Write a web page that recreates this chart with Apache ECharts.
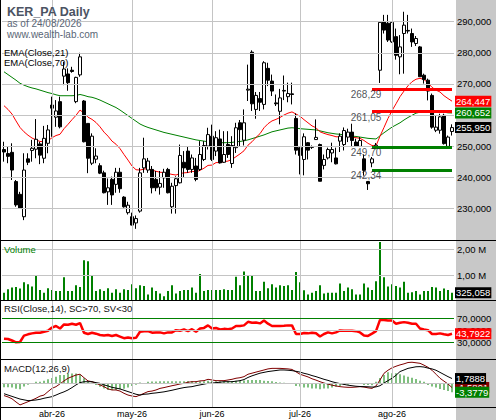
<!DOCTYPE html>
<html><head><meta charset="utf-8">
<script src="https://cdn.jsdelivr.net/npm/echarts@6/dist/echarts.min.js"></script>
<style>html,body{margin:0;padding:0;background:#fff}#c{width:496px;height:420px}</style>
</head><body><div id="c"></div>
<script>
const DATES = [
'16/03','17/03','18/03','19/03','20/03','23/03','24/03','25/03','26/03','27/03','30/03','31/03',
'01/04','02/04','07/04','08/04','09/04','10/04','13/04','14/04','15/04','16/04','17/04','20/04','21/04','22/04','23/04','24/04','27/04','28/04','29/04','30/04',
'04/05','05/05','06/05','07/05','08/05','11/05','12/05','13/05','14/05','15/05','18/05','19/05','20/05','21/05','22/05','25/05','26/05','27/05','28/05','29/05',
'01/06','02/06','03/06','04/06','05/06','08/06','09/06','10/06','11/06','12/06','15/06','16/06','17/06','18/06','19/06','22/06','23/06','24/06','25/06','26/06','29/06','30/06',
'01/07','02/07','03/07','06/07','07/07','08/07','09/07','10/07','13/07','14/07','15/07','16/07','17/07','20/07','21/07','22/07','23/07','24/07','27/07','28/07','29/07','30/07','31/07',
'03/08','04/08','05/08','06/08','07/08','10/08','11/08','12/08','13/08','14/08','17/08','18/08','19/08','20/08','21/08','24/08'];
const MONTH_LABELS = {'04':'abr-26','05':'may-26','06':'jun-26','07':'jul-26','08':'ago-26'};

const OPEN = [248.9,247.6,248.0,238.6,234.5,227.3,245.9,248.6,249.0,250.7,
246.1,250.9,263.2,259.3,264.3,272.5,273.2,274.4,264.3,272.9,
264.5,257.3,244.5,245.8,243.7,241.4,235.3,239.3,237.7,241.6,
233.6,228.6,227.3,225.3,229.1,243.0,242.3,242.5,239.3,236.8,
239.8,242.5,230.5,237.3,238.2,244.8,248.4,242.5,243.6,242.5,
245.7,250.0,253.2,248.4,252.3,244.8,250.5,244.4,249.5,257.5,
251.9,268.0,280.2,261.8,265.3,263.4,275.0,270.9,263.9,261.2,
267.7,265.9,266.8,258.9,249.5,245.7,251.1,249.8,252.1,250.5,
243.8,246.2,247.8,246.2,251.6,250.5,252.9,254.5,251.3,249.9,
245.9,238.6,244.6,249.7,274.4,290.0,289.5,283.5,285.2,278.7,
286.2,287.2,286.2,283.0,281.9,272.8,271.2,266.3,255.1,255.1,
259.9,249.9,254.7];
const CLOSE = [248.1,246.7,242.3,231.1,230.0,242.3,244.8,249.3,252.2,247.1,
252.5,255.2,262.2,261.3,256.2,274.8,270.4,274.0,272.1,278.7,
251.4,246.1,253.2,246.8,241.3,235.0,236.6,234.3,241.6,236.3,
230.5,231.0,224.6,226.7,241.4,245.9,245.2,236.6,236.6,238.0,
241.6,235.0,237.1,239.5,247.0,243.0,242.5,246.2,239.3,247.3,
250.2,253.7,245.7,252.7,244.6,247.3,247.3,250.2,255.9,255.3,
257.5,268.3,263.6,266.3,264.1,276.8,271.2,267.7,263.6,265.5,
267.9,266.9,266.6,248.7,247.0,253.0,248.7,249.6,252.8,238.7,
245.7,248.9,248.9,244.3,253.2,255.0,254.5,251.8,250.0,251.8,
242.2,237.9,245.9,250.3,289.8,287.3,284.1,289.8,279.2,281.9,
288.9,287.0,283.5,284.6,272.3,271.4,267.7,256.1,256.1,259.4,
250.8,252.9,255.95];
const HIGH = [251.4,250.0,250.9,239.1,235.3,247.7,247.7,252.0,258.7,251.4,
256.5,256.8,265.9,264.8,265.9,277.1,275.0,275.5,272.3,280.0,
264.8,257.3,254.1,249.3,244.5,242.1,239.6,240.2,243.0,243.0,
233.9,232.1,228.6,227.7,243.0,252.7,246.2,243.6,242.0,242.0,
242.7,243.0,238.2,240.3,250.5,248.4,250.0,247.3,246.2,251.6,
251.6,255.9,256.9,254.8,255.3,254.8,254.8,253.2,257.5,258.4,
261.8,276.2,280.8,267.4,267.4,277.3,276.8,273.0,266.6,268.4,
272.7,270.4,270.4,260.5,249.8,254.1,251.3,250.2,258.6,250.8,
247.3,249.5,251.1,249.5,254.1,256.0,255.6,257.2,252.4,252.9,
247.3,238.8,246.5,251.0,290.2,292.2,292.2,290.0,287.8,285.7,
293.2,292.2,287.8,285.4,282.2,273.3,271.7,266.9,259.9,260.4,
260.4,253.4,257.0];
const LOW = [245.0,244.5,239.1,230.5,230.0,226.2,243.9,245.0,246.1,244.2,
244.5,247.7,253.0,256.2,255.7,269.6,267.8,273.6,263.8,272.3,
251.2,241.3,243.9,244.5,241.0,234.8,231.1,231.1,235.0,235.0,
230.2,228.0,224.5,223.4,228.6,241.4,241.4,234.8,235.5,234.4,
236.6,234.8,228.3,228.3,238.0,239.8,241.4,241.4,238.7,242.0,
245.2,248.9,245.2,246.8,244.4,244.6,246.2,243.0,247.8,250.0,
250.2,264.5,261.3,258.8,261.3,261.8,269.3,266.1,262.9,257.0,
264.8,264.1,263.4,247.3,240.9,240.6,245.7,249.1,252.1,238.7,
242.5,245.7,244.8,244.1,248.1,248.6,251.3,249.7,249.7,249.7,
240.5,235.9,243.2,249.0,270.3,286.2,283.5,283.2,277.8,273.1,
273.3,286.2,281.9,282.2,272.3,270.1,264.7,255.6,254.5,254.0,
250.5,249.7,253.4];

const EMA21 = [263.0,261.8,260.3,258.1,256.0,254.6,253.5,252.6,252.0,251.5,
251.4,251.7,252.7,253.4,253.8,255.6,257.0,258.5,259.9,261.6,
260.6,259.3,258.6,257.6,256.2,254.5,253.2,251.6,250.6,249.2,
247.3,245.5,243.6,242.4,242.3,242.6,242.8,242.3,241.9,241.6,
241.5,241.2,240.9,240.7,241.2,241.4,241.5,241.9,241.7,242.2,
242.9,243.8,243.9,244.7,244.7,245.0,245.2,245.7,246.6,247.5,
248.5,250.3,251.4,252.8,254.0,255.9,257.2,258.1,258.6,259.2,
260.0,260.6,261.0,260.3,259.6,258.5,257.5,256.5,255.9,254.6,
254.1,253.7,253.4,253.0,253.0,253.1,253.1,252.9,252.7,252.5,
251.8,250.9,250.2,250.1,253.2,256.0,258.9,261.4,263.6,265.9,
267.7,269.4,270.7,271.5,271.8,271.4,270.3,268.9,268.0,267.4,
266.2,265.3,264.447];
const EMA70 = [273.9,273.0,272.1,271.2,270.2,269.6,269.1,268.7,268.4,268.0,
267.6,267.2,266.9,266.5,266.2,266.2,266.2,266.2,266.3,266.6,
266.3,265.9,265.7,265.3,264.8,264.2,263.6,263.0,262.4,261.6,
260.7,259.8,258.9,258.0,257.1,256.5,256.0,255.6,255.2,254.8,
254.4,254.1,253.8,253.5,253.2,252.9,252.6,252.3,252.0,251.8,
251.6,251.4,251.3,251.2,251.1,251.1,251.1,251.2,251.4,251.5,
251.7,252.0,252.4,252.8,253.2,253.6,254.1,254.6,254.9,255.2,
255.5,255.8,255.9,255.8,255.6,255.5,255.4,255.3,255.2,254.9,
254.6,254.3,254.1,253.9,253.8,253.6,253.4,253.2,253.1,252.9,
252.7,252.5,252.4,252.3,253.3,254.3,255.2,256.1,256.8,257.5,
258.4,259.2,259.9,260.6,260.9,261.2,261.4,261.3,261.2,261.2,
260.9,260.7,260.652];

const VOLUME_K = [325,455,525,545,485,725,655,565,985,425,
325,495,425,385,385,925,385,385,615,545,
1585,1545,1015,385,455,385,495,325,455,325,
455,425,655,495,615,585,255,525,385,295,
185,385,615,295,385,425,425,525,325,1055,
385,425,425,425,425,455,425,425,945,615,
1145,985,985,385,385,745,495,655,525,615,
585,615,425,1125,725,415,255,325,385,615,
295,325,325,325,685,385,525,455,255,255,
685,525,425,765,2295,925,565,655,585,525,
745,325,345,385,255,385,385,545,525,385,
485,425,325.058];

const RSI = [35.5,35.0,32.5,29.5,30.0,40.7,42.8,44.4,45.5,45.5,
47.1,48.7,54.0,56.7,52.4,59.3,58.8,60.4,58.8,61.5,
45.5,43.3,45.5,43.9,41.7,40.7,41.7,40.1,41.7,39.1,
36.4,37.5,36.4,36.9,47.1,48.1,48.1,45.5,46.0,46.0,
44.4,46.0,46.0,49.7,48.7,50.8,48.1,51.3,47.1,52.4,
53.5,57.7,52.4,53.5,50.8,51.9,51.3,52.4,56.7,56.7,
57.7,63.6,62.0,62.5,61.0,65.7,60.5,56.7,56.5,56.7,
57.0,57.7,57.7,43.3,43.3,44.9,44.4,45.5,44.5,39.1,
43.3,46.0,44.4,46.0,49.2,48.7,48.7,48.7,48.1,46.0,
40.7,40.2,44.0,48.1,66.8,66.8,66.0,65.7,60.4,62.0,
63.1,62.0,60.4,60.4,52.4,50.8,49.7,43.3,43.3,44.4,
42.8,41.7,43.7922];

const MACD = [-4.6,-5.1,-5.8,-7.0,-8.1,-7.5,-6.9,-6.3,-5.6,-4.8,
-4.4,-3.1,-1.9,-1.25,-0.2,0.9,1.9,2.5,3.1,3.4,
2.1,0.9,0.6,0.0,-0.6,-1.25,-2.1,-2.5,-2.5,-2.9,
-3.75,-4.4,-4.75,-5.0,-4.4,-3.75,-3.1,-2.9,-2.5,-1.9,
-1.6,-1.25,-0.9,-0.6,-0.25,0.0,0.4,0.6,0.6,0.9,
1.0,1.5,1.25,1.0,1.0,1.0,1.25,1.5,1.9,2.1,
2.5,3.4,3.8,4.2,4.6,5.0,5.4,5.6,5.6,5.6,
5.5,5.4,5.2,4.3,3.4,2.9,2.4,1.7,1.2,0.6,
0.1,-0.3,-0.7,-1.0,-1.25,-1.4,-1.5,-1.5,-1.4,-1.25,
-1.4,-1.7,-1.9,-1.0,1.25,3.75,4.9,5.8,6.4,6.9,
7.3,7.8,7.9,7.7,7.5,6.8,6.0,4.9,3.4,1.9,
0.8,-0.25,-1.5891];
const SIGNAL = [-3.9,-4.4,-4.9,-5.4,-5.9,-6.2,-6.5,-6.4,-6.25,-6.0,
-5.6,-5.3,-5.0,-4.4,-3.75,-3.2,-2.5,-1.6,-0.6,0.25,
0.6,0.6,0.6,0.25,0.0,-0.6,-1.0,-1.5,-1.8,-2.1,
-2.6,-3.1,-3.6,-4.1,-4.4,-4.1,-4.0,-3.75,-3.6,-3.4,
-3.2,-2.9,-2.6,-2.25,-1.9,-1.6,-1.4,-1.25,-0.9,-0.6,
-0.3,0.0,0.1,0.25,0.4,0.6,0.6,0.6,0.8,1.0,
1.4,2.2,2.8,3.3,3.8,4.1,4.4,4.6,4.8,5.0,
5.0,4.9,4.75,4.5,4.2,3.75,3.4,2.9,2.5,2.0,
1.5,1.1,0.6,0.2,-0.1,-0.4,-0.7,-0.9,-1.1,-1.2,
-1.25,-1.3,-1.4,-1.35,-0.9,0.1,1.0,1.9,3.0,4.4,
5.0,5.6,5.9,6.2,6.25,6.1,5.7,5.4,4.9,4.1,
3.3,2.5,1.7888];
const HIST = [-1.5,-1.5,-1.6,-2.0,-2.2,-1.2,-0.5,0.1,0.6,0.6,
1.0,1.5,2.0,2.5,3.1,3.1,3.7,3.7,3.7,3.1,
1.9,0.6,0.3,-0.6,-1.25,-1.9,-2.5,-2.5,-2.5,-2.2,
-2.0,-1.6,-1.0,-0.5,0.3,0.1,0.6,0.7,0.7,0.8,
0.8,0.8,0.8,0.8,0.8,0.8,0.9,0.9,0.8,0.8,
0.8,1.0,0.9,0.8,0.8,0.7,0.8,0.9,1.0,1.0,
1.1,1.2,1.2,1.2,1.2,1.0,0.9,0.8,0.5,0.3,
0.2,0.1,0.0,-1.0,-1.2,-1.6,-1.6,-1.9,-1.9,-2.2,
-1.9,-1.9,-1.6,-1.25,-1.0,-0.6,-0.5,-0.3,0.0,0.0,
-0.6,-0.6,-0.7,0.6,2.0,3.1,4.1,3.75,3.75,3.4,
2.9,2.5,2.1,1.6,1.0,0.6,-0.6,-1.2,-1.6,-2.1,
-2.5,-2.9,-3.3779];

const PRICE_TICKS = [230,240,250,260,270,280,290];
const PRICE_TICKS_HIDDEN = [260];   // covered by the EMA(70) value box in the reference
const VOLUME_TICKS = [1000000,2000000];
const RSI_LEVELS = [70,50,30];
const RESISTANCE = [268.29,261.05];
const SUPPORT = [249.70,242.34];
const LEVEL_START = 92, LEVEL_END = 112;

const FONT = 'Liberation Sans';
const fmt = (v,d) => v.toFixed(d).replace('.', ',');
const monthStarts = DATES.map((d,i) => (i>0 && d.slice(3)!==DATES[i-1].slice(3)) ? i : -1).filter(i => i>=0);
const GRID_COL = '#c4c4c4';
const vlines = () => monthStarts.map(i => ({xAxis: DATES[i]}));
const candles = DATES.map((_,i) => [OPEN[i], CLOSE[i], LOW[i], HIGH[i]]);
const volume = VOLUME_K.map(v => Math.round(v*1000));

function endLab(bg, fmtFn){
  return {show:true, formatter: p => fmtFn(p.value), backgroundColor: bg, color:'#fff',
    fontSize: 9.5, fontFamily: FONT, padding:[1,1,0,1], distance: 3, lineHeight: 10};
}
function gridLines(xi, yi, extra){
  return {type:'line', xAxisIndex:xi, yAxisIndex:yi, data:[], silent:true, z:1,
    markLine:{silent:true, symbol:['none','none'], animation:false,
      lineStyle:{color:GRID_COL, width:1, type:'solid'}, label:{show:false},
      data:[...vlines(), ...extra]}};
}
function hiddenLine(xi, yi, data, lab, z){
  return {type:'line', xAxisIndex:xi, yAxisIndex:yi, data, symbol:'none', silent:true, z,
    lineStyle:{width:0, color:'rgba(0,0,0,0)'}, endLabel: lab};
}

const W = 452, L = 2;
const option = {
  animation:false,
  textStyle:{fontFamily:FONT},
  grid:[
    {left:L, width:W, top:0, height:240},
    {left:L, width:W, top:240, height:61},
    {left:L, width:W, top:300, height:60},
    {left:L, width:W, top:359.3, height:48.4}
  ],
  xAxis:[0,1,2,3].map(g => ({
    type:'category', data:DATES, gridIndex:g, boundaryGap:true, show: g===3,
    axisLine:{show:false}, axisTick:{show:false}, splitLine:{show:false},
    axisLabel:{show: g===3, interval:(idx) => monthStarts.includes(idx),
      formatter:(v) => MONTH_LABELS[v.slice(3)] || '', fontSize:9, color:'#000', margin:2, fontFamily:FONT}
  })),
  yAxis:[
    {type:'value', gridIndex:0, min:219.81, max:296.98, show:false, scale:true},
    {type:'value', gridIndex:1, position:'right', min:0, max:2373500, interval:1000000,
      axisLine:{show:false}, axisTick:{show:false}, splitLine:{show:false},
      axisLabel:{formatter:v => VOLUME_TICKS.includes(v) ? fmt(v/1e6,2)+' M' : '', fontSize:9.5, color:'#000', margin:3, fontFamily:FONT}},
    {type:'value', gridIndex:2, position:'right', min:0, max:100, interval:10,
      axisLine:{show:false}, axisTick:{show:false}, splitLine:{show:false},
      axisLabel:{formatter:v => RSI_LEVELS.includes(v) ? fmt(v,4) : '', fontSize:9.5, color:'#000', margin:3, fontFamily:FONT}},
    {type:'value', gridIndex:3, min:-9.14, max:9.0, show:false}
  ],
  graphic:{elements:[
    {type:'rect', z:-10, shape:{x:456, y:0, width:40, height:420}, style:{fill:'#c8c8c8'}, silent:true},
    {type:'line', z:100, shape:{x1:0, y1:240.5, x2:496, y2:240.5}, style:{stroke:'#000', lineWidth:1}},
    {type:'line', z:100, shape:{x1:0, y1:300.5, x2:496, y2:300.5}, style:{stroke:'#000', lineWidth:1}},
    {type:'line', z:100, shape:{x1:0, y1:359.5, x2:496, y2:359.5}, style:{stroke:'#000', lineWidth:1}},
    {type:'line', z:100, shape:{x1:0, y1:407.5, x2:496, y2:407.5}, style:{stroke:'#000', lineWidth:1}},
    {type:'line', z:100, shape:{x1:0.5, y1:0, x2:0.5, y2:420}, style:{stroke:'#000', lineWidth:1}},
    {type:'text', z:100, x:7, y:11.5, style:{text:'KER_PA Daily', fontSize:12.5, fontWeight:'bold', fontFamily:FONT, fill:'#4b5363', verticalAlign:'middle'}},
    {type:'text', z:100, x:7, y:23.5, style:{text:'as of 24/08/2026', fontSize:10, fontFamily:FONT, fill:'#5a6676', verticalAlign:'middle'}},
    {type:'text', z:100, x:7, y:34, style:{text:'www.wealth-lab.com', fontSize:10, fontFamily:FONT, fill:'#5a6676', verticalAlign:'middle'}},
    {type:'text', z:100, x:4, y:52.5, style:{text:'EMA(Close,21)', fontSize:9.5, fontFamily:FONT, fill:'#000', verticalAlign:'middle'}},
    {type:'text', z:100, x:4, y:62.5, style:{text:'EMA(Close,70)', fontSize:9.5, fontFamily:FONT, fill:'#000', verticalAlign:'middle'}},
    {type:'text', z:100, x:4, y:249.5, style:{text:'Volume', fontSize:9.5, fontFamily:FONT, fill:'#008000', verticalAlign:'middle'}},
    {type:'text', z:100, x:4, y:308.3, style:{text:'RSI(Close,14), SC>70, SV<30', fontSize:9.5, fontFamily:FONT, fill:'#111', verticalAlign:'middle'}},
    {type:'text', z:100, x:4, y:368, style:{text:'MACD(12,26,9)', fontSize:9.5, fontFamily:FONT, fill:'#111', verticalAlign:'middle'}}
  ]},
  series:[
    gridLines(0,0, PRICE_TICKS.map(v => ({yAxis:v, label:{show:!PRICE_TICKS_HIDDEN.includes(v), position:'end', distance:3,
      formatter: fmt(v,3), color:'#000', fontSize:9.5, fontFamily:FONT}}))),
    {type:'line', xAxisIndex:0, yAxisIndex:0, data:EMA70, symbol:'none', z:2, silent:true,
      lineStyle:{color:'#008000', width:1}, endLabel:endLab('#008000', v => fmt(v,3))},
    {type:'line', xAxisIndex:0, yAxisIndex:0, data:EMA21, symbol:'none', z:2, silent:true,
      lineStyle:{color:'#ff0000', width:1}, endLabel:endLab('#ff0000', v => fmt(v,3))},
    {type:'candlestick', xAxisIndex:0, yAxisIndex:0, data:candles, barWidth:3, z:3, silent:true,
      itemStyle:{color:'#ffffff', color0:'#000000', borderColor:'#000000', borderColor0:'#000000', borderWidth:1}},
    {type:'line', xAxisIndex:0, yAxisIndex:0, data:[], silent:true, z:4,
      markLine:{silent:true, symbol:['none','none'], animation:false, label:{show:false},
        data:[
          ...RESISTANCE.map(v => [{coord:[DATES[LEVEL_START], v], lineStyle:{color:'#ff0000', width:3, type:'solid'}}, {coord:[DATES[LEVEL_END], v]}]),
          ...SUPPORT.map(v => [{coord:[DATES[LEVEL_START], v], lineStyle:{color:'#008000', width:3, type:'solid'}}, {coord:[DATES[LEVEL_END], v]}])
        ]}},
    {type:'scatter', xAxisIndex:0, yAxisIndex:0, silent:true, z:5, symbolSize:1,
      itemStyle:{color:'rgba(0,0,0,0)'},
      data:[...RESISTANCE, ...SUPPORT].map(v => [DATES[LEVEL_START], v]),
      label:{show:true, position:'bottom', distance:0, offset:[-6,0], formatter:p => fmt(p.value[1],2),
        color:'#1c1f2c', fontSize:10, fontFamily:FONT}},
    hiddenLine(0,0, CLOSE, endLab('#000000', v => fmt(v,3)), 6),

    gridLines(1,1, VOLUME_TICKS.map(v => ({yAxis:v}))),
    {type:'bar', xAxisIndex:1, yAxisIndex:1, data:volume, barWidth:2, z:3, silent:true, itemStyle:{color:'#008000'}},
    hiddenLine(1,1, volume, endLab('#000000', v => Math.round(v).toLocaleString('en-US')), 6),

    gridLines(2,2, [
      {yAxis:70, lineStyle:{color:'#008000', width:1, type:'solid'}},
      {yAxis:50},
      {yAxis:30, lineStyle:{color:'#008000', width:1, type:'solid'}}]),
    {type:'line', xAxisIndex:2, yAxisIndex:2, data:RSI, symbol:'none', z:3, silent:true,
      lineStyle:{color:'#ff0000', width:2.5}, endLabel:endLab('#ff0000', v => fmt(v,4))},

    gridLines(3,3, [{yAxis:0}]),
    {type:'bar', xAxisIndex:3, yAxisIndex:3, data:HIST, barWidth:1, z:2, silent:true, itemStyle:{color:'#008000'}},
    {type:'line', xAxisIndex:3, yAxisIndex:3, data:MACD, symbol:'none', z:3, silent:true,
      lineStyle:{color:'#800000', width:1}, endLabel:endLab('#800000', v => fmt(v,4))},
    {type:'line', xAxisIndex:3, yAxisIndex:3, data:SIGNAL, symbol:'none', z:4, silent:true,
      lineStyle:{color:'#000000', width:1}, endLabel:endLab('#000000', v => fmt(v,4))},
    hiddenLine(3,3, HIST, endLab('#008000', v => fmt(v,4)), 5)
  ]
};
const chart = echarts.init(document.getElementById('c'), null, {renderer:'svg', width:496, height:420});
chart.setOption(option);
</script></body></html>
